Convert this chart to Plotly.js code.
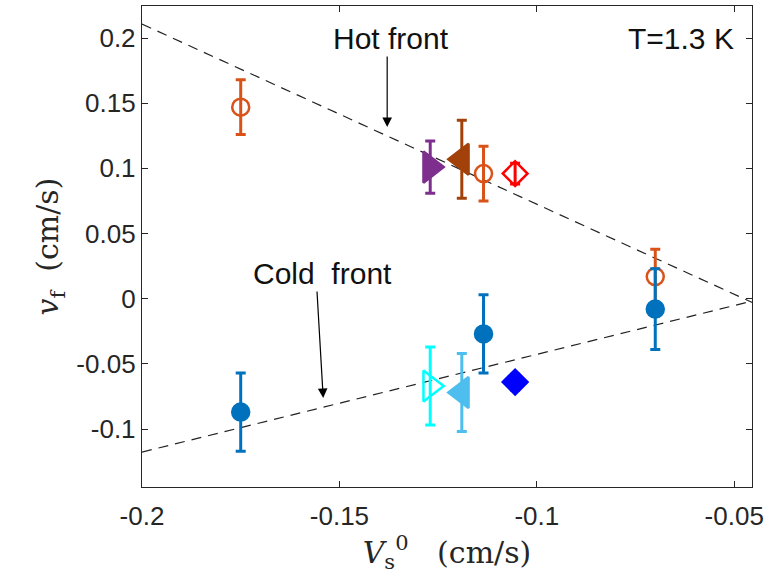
<!DOCTYPE html>
<html>
<head>
<meta charset="utf-8">
<script src="https://cdn.plot.ly/plotly-3.0.1.min.js"></script>
<style>html,body{margin:0;padding:0;background:#fff;}#plot{width:771px;height:583px;}</style>
</head>
<body>
<div id="plot"></div>
<script>
// ---- data ----
const hotX   = [-0.175, -0.127, -0.119, -0.1135, -0.1055, -0.070];
const hotY   = [0.147, 0.101, 0.107, 0.096, 0.096, 0.017];
const hotErr = [0.021, 0.020, 0.030, 0.021, 0.008, 0.021];
const coldX   = [-0.175, -0.127, -0.119, -0.1135, -0.1055, -0.070];
const coldY   = [-0.087, -0.067, -0.072, -0.027, -0.064, -0.008];
const coldErr = [0.030, 0.030, 0.030, 0.030, 0.006, 0.031];
const hotLineX  = [-0.2, -0.045];
const hotLineY  = [0.2107, -0.0035];
const coldLineX = [-0.2, -0.045];
const coldLineY = [-0.1177, -0.0015];
const xTickVals = [-0.2, -0.15, -0.1, -0.05];
const xTickText = ['-0.2', '-0.15', '-0.1', '-0.05'];
const yTickVals = [0.2, 0.15, 0.1, 0.05, 0, -0.05, -0.1];
const yTickText = ['0.2', '0.15', '0.1', '0.05', '0', '-0.05', '-0.1'];

// ---- styles ----
const hotColors  = ['#D95319', '#7E2F8E', '#A2410A', '#D95319', '#FF0000', '#D95319'];
const hotSymbols = ['circle-open', 'triangle-right', 'triangle-left', 'circle-open', 'diamond-open', 'circle-open'];
const coldColors  = ['#0072BD', '#00FFFF', '#4DBEEE', '#0072BD', '#0000FF', '#0072BD'];
const coldSymbols = ['circle', 'triangle-right-open', 'triangle-left', 'circle', 'diamond', 'circle'];

function sizeFor(sym){
  if (sym.indexOf('triangle') === 0) return 27;
  if (sym.indexOf('diamond') === 0) return 19;
  return 17;
}

const traces = [];
traces.push({x: hotLineX, y: hotLineY, mode: 'lines', line: {color: '#222', width: 1.2, dash: '10px,7px'}, hoverinfo: 'skip'});
traces.push({x: coldLineX, y: coldLineY, mode: 'lines', line: {color: '#222', width: 1.2, dash: '10px,7px'}, hoverinfo: 'skip'});

function addPoints(xs, ys, es, cols, syms){
  for (let i = 0; i < xs.length; i++) {
    traces.push({
      x: [xs[i]], y: [ys[i]], mode: 'markers',
      marker: {symbol: syms[i], color: cols[i], size: sizeFor(syms[i]), line: {color: cols[i], width: 2.5}},
      error_y: {type: 'data', array: [es[i]], visible: true, color: cols[i], thickness: 3, width: 5}
    });
  }
}
addPoints(hotX, hotY, hotErr, hotColors, hotSymbols);
addPoints(coldX, coldY, coldErr, coldColors, coldSymbols);

const sans = 'Liberation Sans, Arial, sans-serif';
const serif = 'DejaVu Serif, Liberation Serif, serif';
const tickFont = {family: sans, size: 26, color: '#262626'};
const annFont = {family: sans, size: 30, color: '#111'};
const titleFont = {family: serif, size: 30, color: '#262626'};
const layout = {
  width: 771, height: 583,
  margin: {l: 142, r: 19, t: 6, b: 96},
  showlegend: false,
  plot_bgcolor: '#fff', paper_bgcolor: '#fff',
  xaxis: {
    range: [-0.2, -0.0455], tickvals: xTickVals, ticktext: xTickText,
    ticks: 'inside', ticklen: 6, tickcolor: '#262626', tickwidth: 1,
    showline: true, linecolor: '#262626', linewidth: 1.2, mirror: 'ticks',
    showgrid: false, zeroline: false, tickfont: tickFont, ticklabelstandoff: 6,
    title: {text: '<i>V</i><sub>s</sub><sup>0</sup>\u00A0\u00A0\u00A0(cm/s)', font: titleFont, standoff: 10}
  },
  yaxis: {
    range: [-0.1445, 0.2246], tickvals: yTickVals, ticktext: yTickText,
    ticks: 'inside', ticklen: 6, tickcolor: '#262626', tickwidth: 1,
    showline: true, linecolor: '#262626', linewidth: 1.2, mirror: 'ticks',
    showgrid: false, zeroline: false, tickfont: tickFont,
    title: {text: '<i>v</i><sub>f</sub>\u00A0\u00A0(cm/s)', font: titleFont, standoff: 8}
  },
  annotations: [
    {x: -0.1369, y: 0.2, xref: 'x', yref: 'y', text: 'Hot front', showarrow: false, font: annFont},
    {x: -0.0634, y: 0.2, xref: 'x', yref: 'y', text: 'T=1.3 K', showarrow: false, font: annFont},
    {x: -0.1544, y: 0.0197, xref: 'x', yref: 'y', text: 'Cold\u00A0\u00A0front', showarrow: false, font: annFont},
    {x: -0.1379, y: 0.1317, ax: -0.1379, ay: 0.187, xref: 'x', yref: 'y', axref: 'x', ayref: 'y', text: '', showarrow: true, arrowhead: 2, arrowsize: 1.6, arrowwidth: 1.2, arrowcolor: '#000'},
    {x: -0.1541, y: -0.0763, ax: -0.1557, ay: 0.0066, xref: 'x', yref: 'y', axref: 'x', ayref: 'y', text: '', showarrow: true, arrowhead: 2, arrowsize: 1.6, arrowwidth: 1.2, arrowcolor: '#000'}
  ]
};
Plotly.newPlot('plot', traces, layout, {staticPlot: true, displayModeBar: false});
</script>
</body>
</html>
